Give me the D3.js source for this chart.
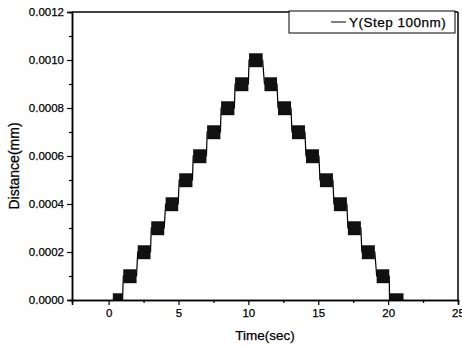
<!DOCTYPE html>
<html>
<head>
<meta charset="utf-8">
<script src="https://cdn.jsdelivr.net/npm/d3@7"></script>
<style>
  body { margin: 0; background: #fff; }
  text { font-family: "Liberation Sans", Arial, sans-serif; fill: #000; stroke: #000; stroke-width: 0.25px; }
</style>
</head>
<body>
<script>
// plateau levels (mm) and their start / end times (sec)
const stepLevel = [0, 0.0001, 0.0002, 0.0003, 0.0004, 0.0005, 0.0006, 0.0007, 0.0008, 0.0009, 0.0010,
                   0.0009, 0.0008, 0.0007, 0.0006, 0.0005, 0.0004, 0.0003, 0.0002, 0.0001, 0]
const stepStart = [0.3, 1.05, 2.08, 3.05, 4.08, 5.05, 6.05, 7.05, 8.05, 9.05, 10.05,
                   11.15, 12.12, 13.12, 14.12, 15.12, 16.12, 17.12, 18.12, 19.18, 20.1]
const stepEnd = [1.0, 2.0, 3.0, 3.98, 4.98, 6.0, 7.0, 8.0, 9.0, 10.0, 11.02,
                 12.05, 13.05, 14.05, 15.05, 16.05, 17.05, 18.05, 19.05, 20.08, 21.1]
// vibration band round each plateau (mm)
const rippleUp = 0.000028
const rippleDown = 0.000030

const xMajor = [0, 5, 10, 15, 20, 25]
const xMinor = [2.5, 7.5, 12.5, 17.5, 22.5]
const yMajor = [0, 0.0002, 0.0004, 0.0006, 0.0008, 0.0010, 0.0012]
const yMinor = [0.0001, 0.0003, 0.0005, 0.0007, 0.0009, 0.0011]

const width = 462
const height = 347
const plotL = 72, plotR = 458, plotT = 12, plotB = 300

const svg = d3.select("body").append("svg")
    .attr("width", width)
    .attr("height", height)

const x = d3.scaleLinear().domain([-2.62, 25]).range([plotL, plotR])
const y = d3.scaleLinear().domain([0, 0.0012]).range([plotB, plotT])

svg.append("clipPath").attr("id", "plot")
    .append("rect")
    .attr("x", plotL).attr("y", plotT)
    .attr("width", plotR - plotL).attr("height", plotB - plotT)

const g = svg.append("g").attr("clip-path", "url(#plot)")

// thin trace joining the plateaus
const pts = []
stepLevel.forEach((v, i) => {
    pts.push([stepStart[i], v])
    pts.push([stepEnd[i], v])
})
g.append("path")
    .attr("fill", "none")
    .attr("stroke", "#000")
    .attr("stroke-width", 1.2)
    .attr("d", d3.line().x((d) => x(d[0])).y((d) => y(d[1]))(pts))

// noisy plateaus
g.selectAll("rect.step")
    .data(stepLevel)
    .join("rect")
    .attr("class", "step")
    .attr("x", (_, i) => x(stepStart[i]))
    .attr("width", (_, i) => x(stepEnd[i]) - x(stepStart[i]))
    .attr("y", (d) => y(d + rippleUp))
    .attr("height", (d) => y(d - rippleDown) - y(d + rippleUp))
    .attr("fill", "#111")

// axes
const yAxis = svg.append("g")
    .attr("transform", `translate(${plotL},0)`)
    .call(d3.axisLeft(y).tickValues(yMajor).tickFormat(d3.format(".4f")).tickSize(5).tickPadding(3))
const yAxisMinor = svg.append("g")
    .attr("transform", `translate(${plotL},0)`)
    .call(d3.axisLeft(y).tickValues(yMinor).tickFormat("").tickSize(3))
const xAxis = svg.append("g")
    .attr("transform", `translate(0,${plotB})`)
    .call(d3.axisBottom(x).tickValues(xMajor).tickSize(5).tickPadding(4))
const xAxisMinor = svg.append("g")
    .attr("transform", `translate(0,${plotB})`)
    .call(d3.axisBottom(x).tickValues(xMinor).tickFormat("").tickSize(3))

;[yAxis, xAxis].forEach((a) => a.selectAll("text").style("font-size", "11.5px"))
;[yAxis, yAxisMinor, xAxis, xAxisMinor].forEach((a) => {
    a.select(".domain").attr("stroke-width", 1.5)
    a.selectAll("line").attr("stroke-width", 1.2)
})

// frame top and right
svg.append("line").attr("x1", plotL).attr("x2", plotR).attr("y1", plotT).attr("y2", plotT)
    .attr("stroke", "#000").attr("stroke-width", 1.5)
svg.append("line").attr("x1", plotR).attr("x2", plotR).attr("y1", plotT).attr("y2", plotB)
    .attr("stroke", "#000").attr("stroke-width", 1.5)

// axis titles
svg.append("text")
    .attr("x", (plotL + plotR) / 2)
    .attr("y", 340)
    .attr("text-anchor", "middle")
    .style("font-size", "13.5px")
    .text("Time(sec)")
svg.append("text")
    .attr("transform", `translate(19,166) rotate(-90)`)
    .attr("text-anchor", "middle")
    .style("font-size", "14px")
    .text("Distance(mm)")

// legend
const lg = svg.append("g")
lg.append("rect")
    .attr("x", 289).attr("y", 11)
    .attr("width", 166).attr("height", 22)
    .attr("fill", "#fff").attr("stroke", "#000").attr("stroke-width", 1)
lg.append("line")
    .attr("x1", 331).attr("x2", 346).attr("y1", 22).attr("y2", 22)
    .attr("stroke", "#000").attr("stroke-width", 1)
lg.append("text")
    .attr("x", 349).attr("y", 27)
    .style("font-size", "13.5px")
    .style("letter-spacing", "0.5px")
    .text("Y(Step 100nm)")
</script>
</body>
</html>
